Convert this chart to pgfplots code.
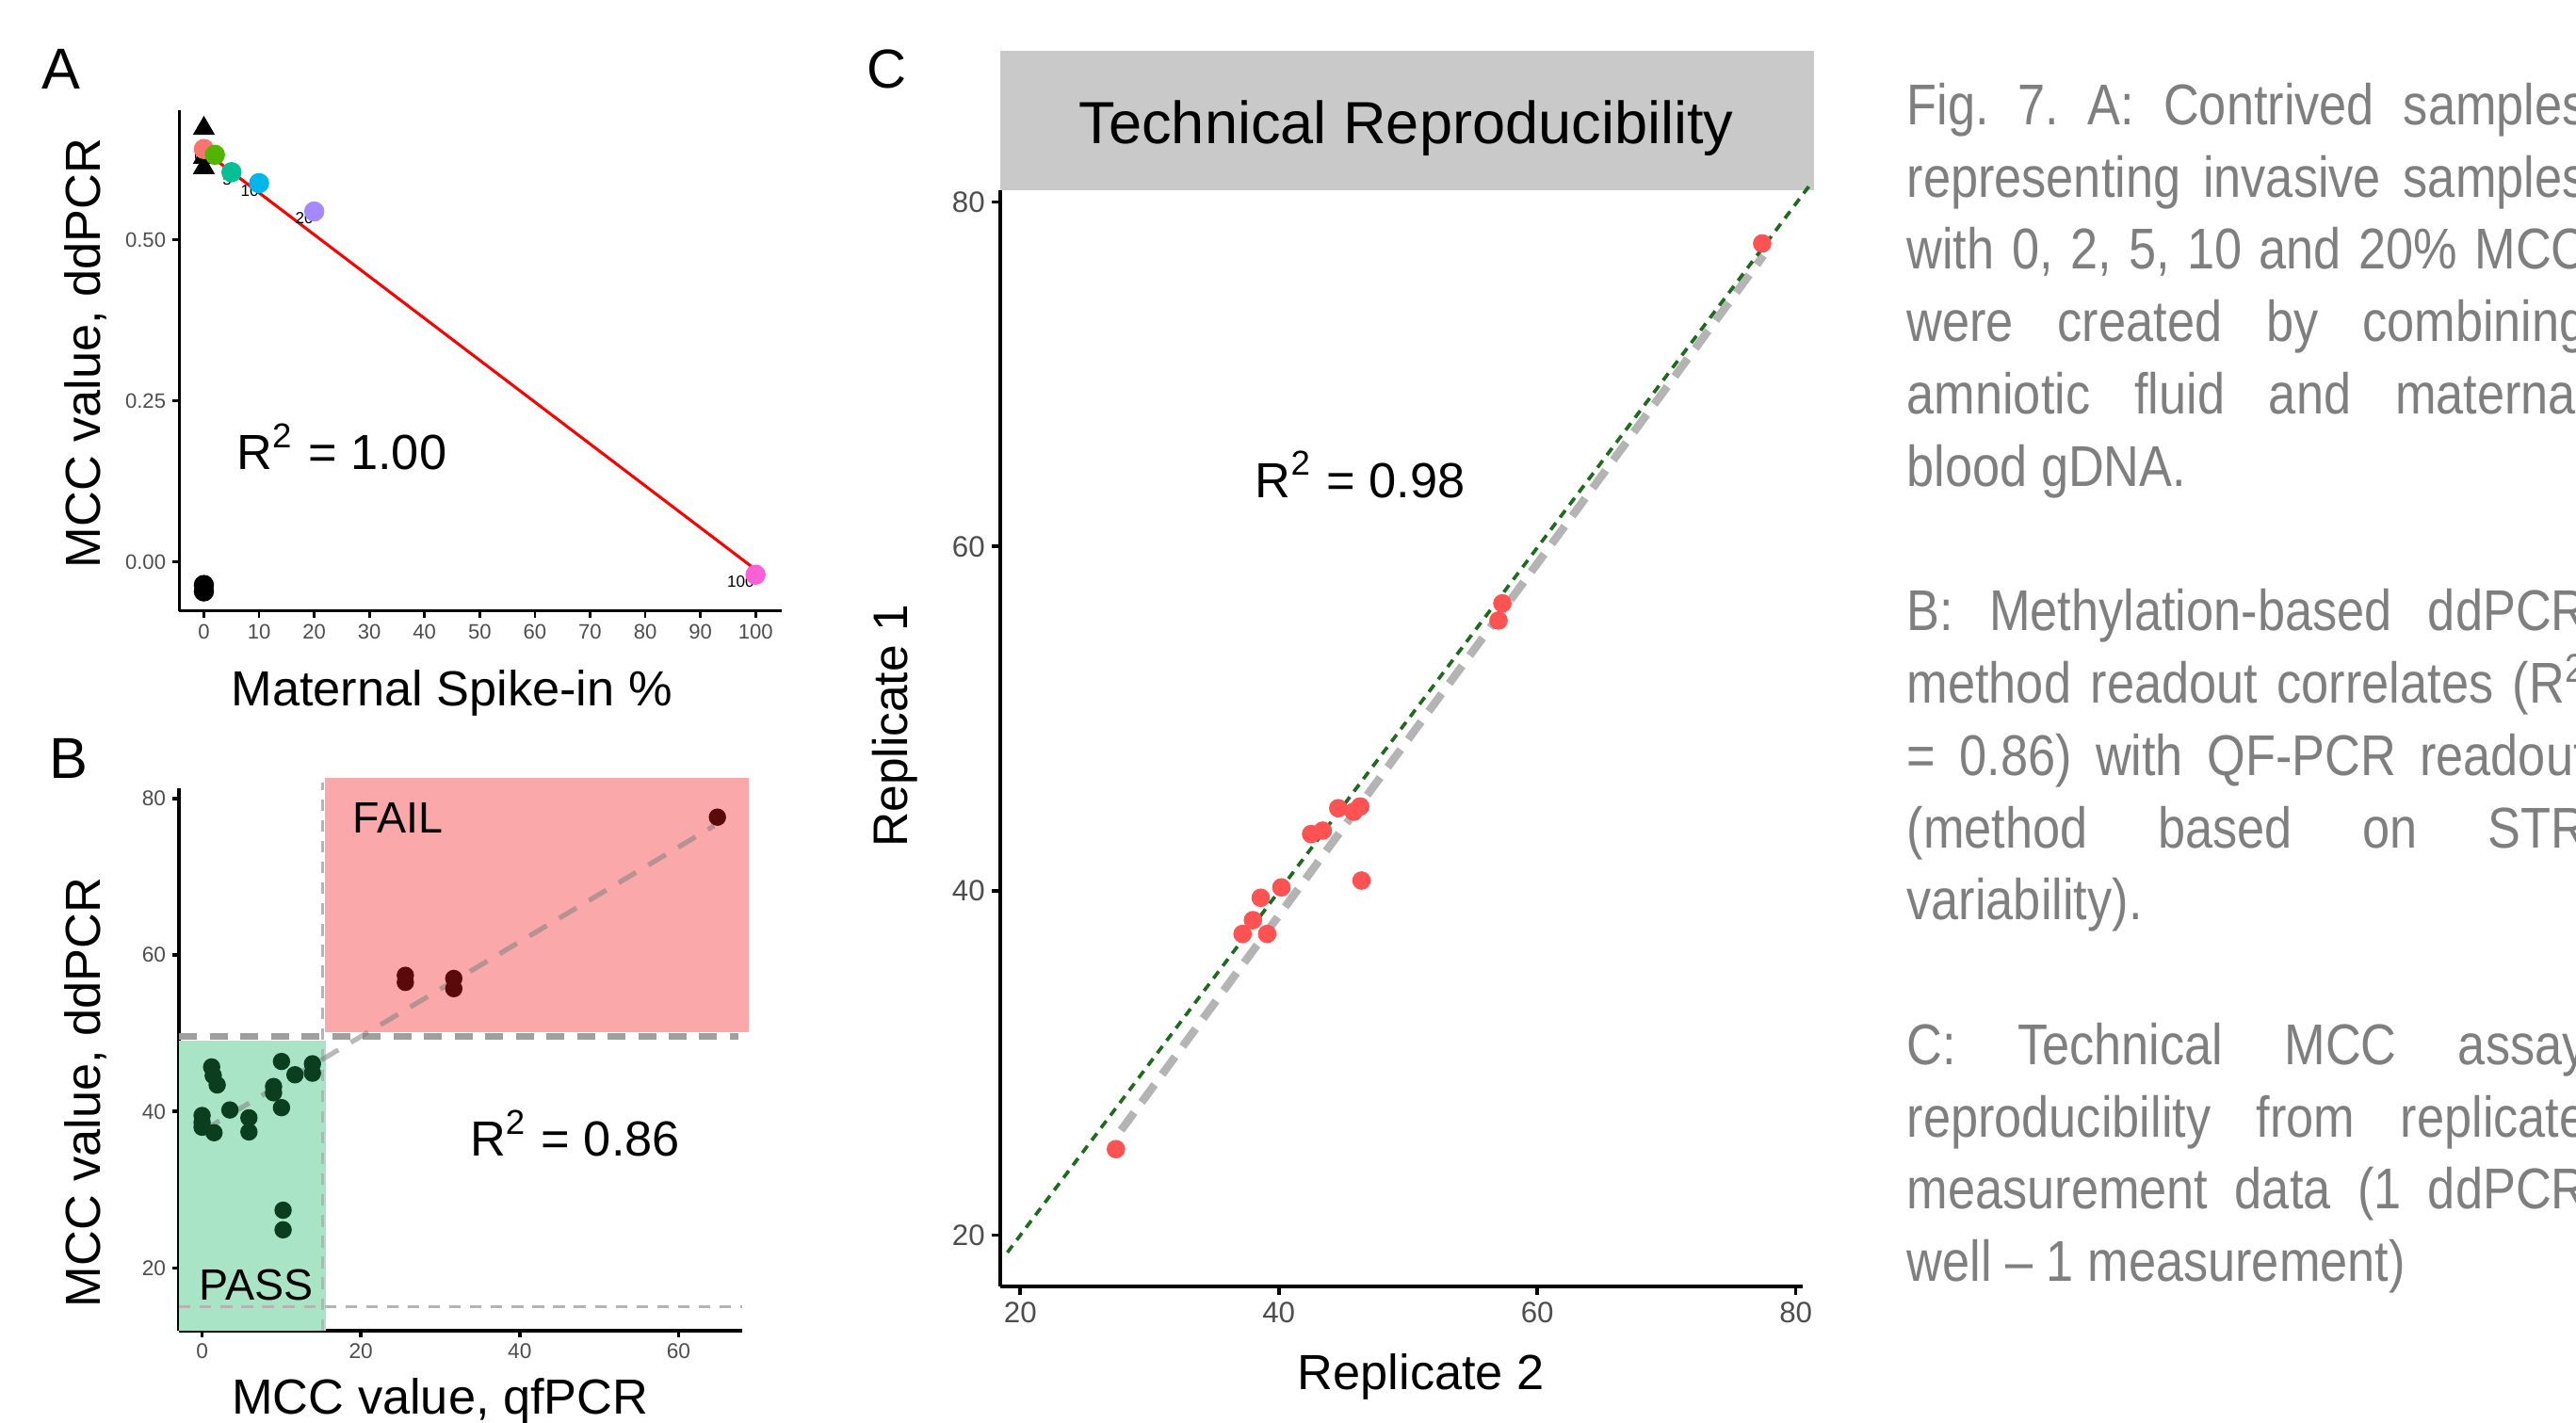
\documentclass[border=0pt]{standalone}
\usepackage{pgfplots}
\pgfplotsset{compat=1.18}
\usepackage{fontspec}
\setmainfont{Liberation Sans}
\newfontfamily\capfont[FakeStretch=0.857]{Liberation Sans}

\definecolor{tickgray}{HTML}{4D4D4D}
\definecolor{capgray}{HTML}{7F7F7F}
\definecolor{stripgray}{HTML}{C9C9C9}
\definecolor{ggred}{HTML}{F8766D}
\definecolor{gggreen}{HTML}{53B400}
\definecolor{ggteal}{HTML}{00C094}
\definecolor{ggblue}{HTML}{00B6EB}
\definecolor{ggpurple}{HTML}{A58AFF}
\definecolor{ggpink}{HTML}{FB61D7}
\definecolor{passfill}{HTML}{AAE4C6}
\definecolor{failfill}{HTML}{FBA8AA}
\definecolor{passpt}{HTML}{0B3D1F}
\definecolor{failpt}{HTML}{5A0A0A}
\definecolor{reppt}{HTML}{FF5252}
\definecolor{fitgreen}{HTML}{1E6B1E}
\definecolor{dashgray}{HTML}{B4B4B4}

\newcommand\fs[1]{\fontsize{#1}{#1}\selectfont}
\newcommand\jl[1]{\makebox[4.14cm][s]{#1}}

\pgfplotsset{
  ggclassic/.style={
    scale only axis, anchor=south west, clip=false,
    axis x line*=bottom, axis y line*=left,
    axis line style={black, line width=0.45pt},
    tick align=outside, major tick length=1.1pt,
    tick style={black, line width=0.45pt},
    tick label style={text=tickgray, inner sep=1pt},
    /pgf/number format/assume math mode=true,
  },
}

\begin{document}
\begin{tikzpicture}
\path[use as bounding box] (0,0) rectangle (15.68,8.66);

% ---------- panel A
\begin{axis}[ggclassic, at={(1.09cm,4.94cm)}, width=3.67cm, height=3.05cm,
  xmin=-4.5, xmax=104.8, ymin=-0.0765, ymax=0.7015,
  xtick={0,10,...,100}, ytick={0,0.25,0.5}, yticklabels={0.00,0.25,0.50},
  tick label style={font=\fs{3.6}}]
\addplot[red, line width=0.5pt] coordinates {(0,0.638) (100,-0.012)};
\addplot[only marks, mark=triangle*, mark size=1.8pt, black] coordinates {(0,0.673) (0,0.628) (0,0.612)};
\addplot[only marks, mark=*, mark size=1.55pt, black] coordinates {(0,-0.036) (0,-0.046)};
\addplot[only marks, mark=*, mark size=1.55pt, ggred] coordinates {(0,0.641)};
\addplot[only marks, mark=*, mark size=1.55pt, gggreen] coordinates {(2,0.632)};
\addplot[only marks, mark=*, mark size=1.55pt, ggteal] coordinates {(5,0.605)};
\addplot[only marks, mark=*, mark size=1.55pt, ggblue] coordinates {(10,0.588)};
\addplot[only marks, mark=*, mark size=1.55pt, ggpurple] coordinates {(20,0.544)};
\addplot[only marks, mark=*, mark size=1.55pt, ggpink] coordinates {(100,-0.020)};
\node[font=\fs{2.8}] at (axis cs:-0.9,0.630) {0};
\node[font=\fs{2.8}] at (axis cs:0.6,0.630) {2};
\node[font=\fs{2.8}] at (axis cs:4.2,0.594) {5};
\node[font=\fs{2.8}] at (axis cs:8.3,0.576) {10};
\node[font=\fs{2.8}] at (axis cs:18.2,0.533) {20};
\node[font=\fs{2.8}] at (axis cs:97.3,-0.031) {100};
\end{axis}
\node[font=\fs{10}] at (0.37,8.24) {A};
\node[rotate=90, font=\fs{8.54}] at (0.52,6.51) {MCC value, ddPCR};
\node[font=\fs{8.54}] at (2.75,4.44) {Maternal Spike-in \%};
\node[font=\fs{8.54}] at (2.08,5.94) {R\textsuperscript{2} = 1.00};

% ---------- panel B
\begin{axis}[ggclassic, at={(1.09cm,0.56cm)}, width=3.43cm, height=3.30cm,
  xmin=-2.9, xmax=68.07, ymin=12.03, ymax=81.26,
  xtick={0,20,40,60}, ytick={20,40,60,80},
  axis line style={line width=0.6pt}, tick style={line width=0.6pt},
  tick label style={font=\fs{3.7}}]
\fill[passfill] (axis cs:-2.9,12.03) rectangle (axis cs:15.6,49.1);
\fill[failfill] (axis cs:15.5,50.2) rectangle (axis cs:68.9,82.6);
\draw[dashgray, line width=0.4pt, dash pattern=on 2pt off 1.6pt] (axis cs:15.2,12.03) -- (axis cs:15.2,82);
\draw[dashgray, line width=0.4pt, dash pattern=on 2pt off 1.6pt] (axis cs:-2.9,15.06) -- (axis cs:68,15.06);
\draw[gray!75, line width=1.3pt, dash pattern=on 3.1pt off 2.2pt] (axis cs:-2.9,49.6) -- (axis cs:67.5,49.6);
\draw[gray, opacity=0.55, line width=0.85pt, dash pattern=on 3.5pt off 2.5pt] (axis cs:0,37.5) -- (axis cs:64.5,76.5);
\addplot[only marks, mark=*, mark size=1.3pt, passpt] coordinates {
  (0,39.5) (0,38.6) (0,38.0) (1.5,37.3) (1.2,45.7) (1.4,44.6) (1.9,43.4)
  (3.5,40.2) (5.9,39.2) (5.9,37.4) (9.0,43.2) (9.0,42.4) (10.0,46.4)
  (10.0,40.5) (11.7,44.7) (13.9,46.1) (13.9,44.9) (10.2,27.4) (10.2,24.9)};
\addplot[only marks, mark=*, mark size=1.3pt, failpt] coordinates {
  (25.6,57.4) (25.6,56.5) (31.7,57.0) (31.7,55.7) (64.9,77.6)};
\end{axis}
\node[font=\fs{10}] at (0.42,4.04) {B};
\node[rotate=90, font=\fs{8.54}] at (0.52,2.01) {MCC value, ddPCR};
\node[font=\fs{8.54}] at (2.68,0.13) {MCC value, qfPCR};
\node[font=\fs{7.6}] at (2.42,3.68) {FAIL};
\node[font=\fs{7.6}] at (1.56,0.84) {PASS};
\node[font=\fs{8.54}] at (3.50,1.76) {R\textsuperscript{2} = 0.86};

% ---------- panel C
\fill[stripgray] (6.09,7.50) rectangle (11.04,8.35);
\node[font=\fs{10.3}] at (8.56,7.88) {Technical Reproducibility};
\begin{axis}[ggclassic, at={(6.09cm,0.83cm)}, width=4.88cm, height=6.67cm,
  xmin=18.47, xmax=80.5, ymin=17.04, ymax=80.67,
  xtick={20,40,60,80}, ytick={20,40,60,80},
  major tick length=1.5pt, axis line style={line width=0.6pt}, tick style={line width=0.6pt},
  tick label style={font=\fs{5.1}}]
\draw[dashgray, line width=1.4pt, dash pattern=on 3.8pt off 2.2pt] (axis cs:27.8,26.1) -- (axis cs:77.5,76.9);
\draw[fitgreen, line width=0.6pt, dash pattern=on 1.5pt off 1.2pt] (axis cs:19,19) -- (axis cs:81,80.9);
\addplot[only marks, mark=*, mark size=1.4pt, reppt] coordinates {
  (27.4,25.0) (37.2,37.5) (38.0,38.3) (38.6,39.6) (39.1,37.5) (40.2,40.2)
  (42.5,43.3) (43.4,43.5) (44.6,44.8) (45.8,44.6) (46.3,44.9) (46.4,40.6)
  (57.0,55.7) (57.3,56.7) (77.4,77.6)};
\end{axis}
\node[font=\fs{9.5}] at (5.40,8.24) {C};
\node[rotate=90, font=\fs{8.4}] at (5.45,4.24) {Replicate 1};
\node[font=\fs{8.54}] at (8.65,0.28) {Replicate 2};
\node[font=\fs{8.54}] at (8.28,5.77) {R\textsuperscript{2} = 0.98};

% ---------- caption
\node[anchor=base west, inner sep=0pt, align=left, text=capgray,
  font=\capfont\fontsize{9.96}{12.52}\selectfont\frenchspacing] at (11.60,0.86) {%
\jl{Fig. 7. A: Contrived samples}\\
\jl{representing invasive samples}\\
\jl{with 0, 2, 5, 10 and 20\% MCC}\\
\jl{were created by combining}\\
\jl{amniotic fluid and maternal}\\
blood gDNA.\\[12.52pt]
\jl{B: Methylation-based ddPCR}\\
\jl{method readout correlates (R\textsuperscript{2}}\\
\jl{= 0.86) with QF-PCR readout}\\
\jl{(method based on STR}\\
variability).\\[12.52pt]
\jl{C: Technical MCC assay}\\
\jl{reproducibility from replicate}\\
\jl{measurement data (1 ddPCR}\\
well \textendash{} 1 measurement)};
\end{tikzpicture}
\end{document}
